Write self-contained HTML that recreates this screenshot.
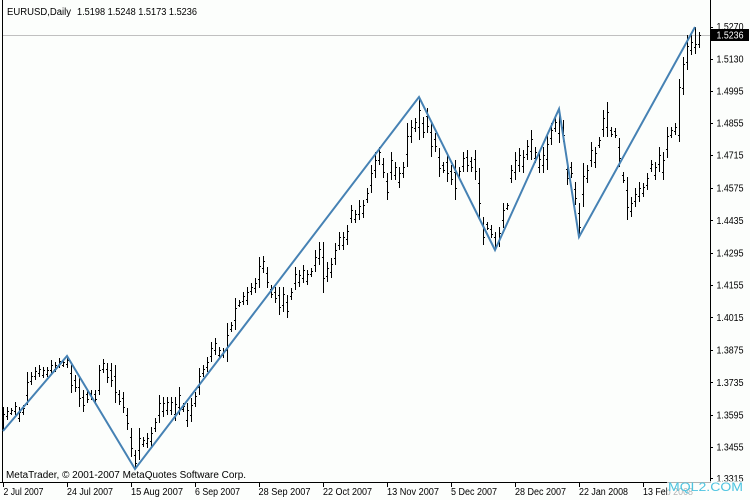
<!DOCTYPE html>
<html><head><meta charset="utf-8">
<style>
html,body{margin:0;padding:0;background:#fcfefc;}
svg{display:block;}
text{font-family:"Liberation Sans",sans-serif;}
</style></head>
<body>
<svg width="750" height="500" viewBox="0 0 750 500" xmlns="http://www.w3.org/2000/svg">
<rect x="0" y="0" width="750" height="500" fill="#fcfefc"/>
<!-- bid line -->
<path d="M3 35.5H710" stroke="#c0c0c0" stroke-width="1" shape-rendering="crispEdges"/>
<!-- frame -->
<path d="M2.5 0V483M710.5 0V483M0 482.5H711" stroke="#000" stroke-width="1" fill="none" shape-rendering="crispEdges"/>
<!-- bars -->
<path stroke="#000" stroke-width="1" fill="none" shape-rendering="crispEdges" d="
M3.5 407V430M2 423.5h1M4 414.5h1
M7.5 407V420M6 416.5h1M8 411.5h1
M11.5 408V415M10 413.5h1M12 410.5h1
M15.5 402V415M14 411.5h1M16 406.5h1
M19.5 407V422M18 418.5h1M20 412.5h1
M23.5 405V415M22 412.5h1M24 408.5h1
M27.5 372V405M26 395.5h1M28 382.5h1
M31.5 372V385M30 381.5h1M32 376.5h1
M35.5 367V380M34 376.5h1M36 371.5h1
M39.5 365V377M38 373.5h1M40 369.5h1
M43.5 367V378M42 375.5h1M44 370.5h1
M47.5 367V377M46 374.5h1M48 370.5h1
M51.5 360V375M50 370.5h1M52 365.5h1
M55.5 362V372M54 369.5h1M56 365.5h1
M59.5 358V368M58 365.5h1M60 361.5h1
M63.5 360V367M62 365.5h1M64 362.5h1
M67.5 356V368M66 364.5h1M68 360.5h1
M71.5 365V393M70 373.5h1M72 385.5h1
M75.5 375V392M74 380.5h1M76 387.5h1
M79.5 378V407M78 387.5h1M80 398.5h1
M83.5 390V412M82 397.5h1M84 405.5h1
M87.5 390V403M86 394.5h1M88 399.5h1
M91.5 390V400M90 393.5h1M92 397.5h1
M95.5 390V403M94 394.5h1M96 399.5h1
M99.5 365V395M98 390.5h1M100 370.5h1
M103.5 359V373M102 369.5h1M104 363.5h1
M107.5 363V383M106 369.5h1M108 377.5h1
M111.5 363V387M110 370.5h1M112 380.5h1
M115.5 365V403M114 376.5h1M116 392.5h1
M119.5 390V405M118 394.5h1M120 401.5h1
M123.5 392V413M122 398.5h1M124 407.5h1
M127.5 408V430M126 415.5h1M128 423.5h1
M131.5 428V457M130 437.5h1M132 448.5h1
M135.5 450V468M134 455.5h1M136 463.5h1
M139.5 428V460M138 450.5h1M140 438.5h1
M143.5 437V447M142 444.5h1M144 440.5h1
M147.5 433V448M146 443.5h1M148 438.5h1
M151.5 427V447M150 441.5h1M152 433.5h1
M155.5 418V432M154 428.5h1M156 422.5h1
M159.5 395V423M158 415.5h1M160 403.5h1
M163.5 397V417M162 411.5h1M164 403.5h1
M167.5 397V415M166 410.5h1M168 402.5h1
M171.5 397V415M170 410.5h1M172 402.5h1
M175.5 397V421M174 414.5h1M176 404.5h1
M179.5 387V415M178 407.5h1M180 395.5h1
M183.5 403V412M182 409.5h1M184 406.5h1
M187.5 403V427M186 420.5h1M188 410.5h1
M191.5 398V422M190 415.5h1M192 405.5h1
M195.5 392V407M194 403.5h1M196 396.5h1
M199.5 368V395M198 387.5h1M200 376.5h1
M203.5 365V377M202 373.5h1M204 369.5h1
M207.5 357V372M206 367.5h1M208 362.5h1
M211.5 342V362M210 356.5h1M212 348.5h1
M215.5 338V355M214 350.5h1M216 343.5h1
M219.5 347V358M218 355.5h1M220 350.5h1
M223.5 348V358M222 355.5h1M224 351.5h1
M227.5 323V362M226 350.5h1M228 335.5h1
M231.5 322V332M230 329.5h1M232 325.5h1
M235.5 298V330M234 320.5h1M236 308.5h1
M239.5 300V307M238 305.5h1M240 302.5h1
M243.5 292V305M242 301.5h1M244 296.5h1
M247.5 287V305M246 300.5h1M248 292.5h1
M251.5 283V295M250 291.5h1M252 287.5h1
M255.5 278V293M254 288.5h1M256 283.5h1
M259.5 257V288M258 279.5h1M260 266.5h1
M263.5 256V273M262 268.5h1M264 261.5h1
M267.5 267V288M266 273.5h1M268 282.5h1
M271.5 285V298M270 289.5h1M272 294.5h1
M275.5 287V303M274 292.5h1M276 298.5h1
M279.5 287V315M278 295.5h1M280 307.5h1
M283.5 287V312M282 305.5h1M284 294.5h1
M287.5 295V318M286 302.5h1M288 311.5h1
M291.5 288V300M290 296.5h1M292 292.5h1
M295.5 267V290M294 283.5h1M296 274.5h1
M299.5 270V287M298 282.5h1M300 275.5h1
M303.5 265V283M302 278.5h1M304 270.5h1
M307.5 270V285M306 281.5h1M308 274.5h1
M311.5 268V277M310 274.5h1M312 271.5h1
M315.5 250V272M314 265.5h1M316 257.5h1
M319.5 242V265M318 258.5h1M320 249.5h1
M323.5 242V293M322 257.5h1M324 278.5h1
M327.5 262V282M326 276.5h1M328 268.5h1
M331.5 258V278M330 272.5h1M332 264.5h1
M335.5 243V265M334 258.5h1M336 250.5h1
M339.5 232V250M338 245.5h1M340 237.5h1
M343.5 232V250M342 245.5h1M344 237.5h1
M347.5 225V245M346 239.5h1M348 231.5h1
M351.5 205V223M350 218.5h1M352 210.5h1
M355.5 210V223M354 219.5h1M356 214.5h1
M359.5 200V220M358 214.5h1M360 206.5h1
M363.5 200V218M362 213.5h1M364 205.5h1
M367.5 188V203M366 199.5h1M368 193.5h1
M371.5 165V193M370 185.5h1M372 173.5h1
M375.5 152V178M374 170.5h1M376 160.5h1
M379.5 147V165M378 160.5h1M380 152.5h1
M383.5 158V178M382 164.5h1M384 172.5h1
M387.5 173V200M386 181.5h1M388 192.5h1
M391.5 152V180M390 172.5h1M392 160.5h1
M395.5 162V180M394 175.5h1M396 167.5h1
M399.5 167V188M398 182.5h1M400 173.5h1
M403.5 162V178M402 173.5h1M404 167.5h1
M407.5 123V167M406 154.5h1M408 136.5h1
M411.5 120V143M410 136.5h1M412 127.5h1
M415.5 118V132M414 128.5h1M416 122.5h1
M419.5 97V140M418 127.5h1M420 110.5h1
M423.5 117V138M422 123.5h1M424 132.5h1
M427.5 108V133M426 116.5h1M428 126.5h1
M431.5 122V157M430 132.5h1M432 146.5h1
M435.5 133V152M434 139.5h1M436 146.5h1
M439.5 148V177M438 157.5h1M440 168.5h1
M443.5 162V173M442 165.5h1M444 170.5h1
M447.5 153V182M446 162.5h1M448 173.5h1
M451.5 165V185M450 171.5h1M452 179.5h1
M455.5 160V200M454 172.5h1M456 188.5h1
M459.5 167V180M458 176.5h1M460 171.5h1
M463.5 152V172M462 166.5h1M464 158.5h1
M467.5 150V172M466 157.5h1M468 165.5h1
M471.5 157V172M470 161.5h1M472 167.5h1
M475.5 150V180M474 159.5h1M476 171.5h1
M479.5 168V218M478 183.5h1M480 203.5h1
M483.5 217V245M482 225.5h1M484 237.5h1
M487.5 222V230M486 224.5h1M488 228.5h1
M491.5 225V238M490 229.5h1M492 234.5h1
M495.5 232V250M494 237.5h1M496 245.5h1
M499.5 227V247M498 241.5h1M500 233.5h1
M503.5 203V228M502 220.5h1M504 210.5h1
M507.5 203V210M506 208.5h1M508 205.5h1
M511.5 165V183M510 178.5h1M512 170.5h1
M515.5 152V180M514 172.5h1M516 160.5h1
M519.5 148V172M518 165.5h1M520 155.5h1
M523.5 150V173M522 166.5h1M524 157.5h1
M527.5 140V160M526 154.5h1M528 146.5h1
M531.5 130V160M530 151.5h1M532 139.5h1
M535.5 147V163M534 158.5h1M536 152.5h1
M539.5 153V173M538 167.5h1M540 159.5h1
M543.5 147V173M542 165.5h1M544 155.5h1
M547.5 133V170M546 159.5h1M548 144.5h1
M551.5 123V145M550 138.5h1M552 130.5h1
M555.5 117V132M554 128.5h1M556 122.5h1
M559.5 109V143M558 133.5h1M560 119.5h1
M563.5 120V142M562 127.5h1M564 135.5h1
M567.5 162V185M566 169.5h1M568 178.5h1
M571.5 162V178M570 167.5h1M572 173.5h1
M575.5 182V205M574 189.5h1M576 198.5h1
M579.5 203V237M578 213.5h1M580 227.5h1
M583.5 163V207M582 194.5h1M584 176.5h1
M587.5 165V183M586 178.5h1M588 170.5h1
M591.5 142V167M590 160.5h1M592 150.5h1
M595.5 147V168M594 162.5h1M596 153.5h1
M599.5 137V148M598 145.5h1M600 140.5h1
M603.5 110V137M602 129.5h1M604 118.5h1
M607.5 102V137M606 127.5h1M608 112.5h1
M611.5 127V137M610 130.5h1M612 134.5h1
M615.5 128V138M614 131.5h1M616 135.5h1
M619.5 138V167M618 147.5h1M620 158.5h1
M623.5 172V183M622 175.5h1M624 180.5h1
M627.5 177V220M626 190.5h1M628 207.5h1
M631.5 197V217M630 211.5h1M632 203.5h1
M635.5 188V207M634 201.5h1M636 194.5h1
M639.5 182V202M638 196.5h1M640 188.5h1
M643.5 183V197M642 193.5h1M644 187.5h1
M647.5 173V190M646 185.5h1M648 178.5h1
M651.5 160V172M650 168.5h1M652 164.5h1
M655.5 162V180M654 175.5h1M656 167.5h1
M659.5 147V172M658 164.5h1M660 155.5h1
M663.5 152V180M662 172.5h1M664 160.5h1
M667.5 127V158M666 149.5h1M668 136.5h1
M671.5 127V138M670 135.5h1M672 130.5h1
M675.5 123V135M674 131.5h1M676 127.5h1
M679.5 79V142M678 135.5h1M680 87.5h1
M683.5 57V95M682 88.5h1M684 64.5h1
M687.5 35V70M686 62.5h1M688 46.5h1
M691.5 35V55M690 50.5h1M692 42.5h1
M695.5 27V54M694 47.5h1M696 44.5h1
M699.5 32V48M698 44.5h1M700 35.5h1
"/>
<!-- zigzag -->
<polyline points="3,431 67,356 135,469 419,97 495,250 559,109 579,237 695,27" fill="none" stroke="#4682b4" stroke-width="2" stroke-linejoin="miter"/>
<!-- header -->
<text x="7" y="15" font-size="10" textLength="64" lengthAdjust="spacingAndGlyphs" fill="#000">EURUSD,Daily</text>
<text x="77" y="15" font-size="10" textLength="120" lengthAdjust="spacingAndGlyphs" fill="#000">1.5198 1.5248 1.5173 1.5236</text>
<!-- copyright -->
<text x="6" y="478" font-size="10" textLength="240" lengthAdjust="spacingAndGlyphs" fill="#000">MetaTrader, © 2001-2007 MetaQuotes Software Corp.</text>
<!-- price axis ticks -->
<path stroke="#000" stroke-width="1" shape-rendering="crispEdges" d="M711 27.5h2M711 59.5h2M711 91.5h2M711 123.5h2M711 155.5h2M711 188.5h2M711 220.5h2M711 253.5h2M711 285.5h2M711 317.5h2M711 350.5h2M711 382.5h2M711 415.5h2M711 447.5h2M711 478.5h2"/>
<g font-size="10" fill="#000">
<text x="716.5" y="30" textLength="27" lengthAdjust="spacingAndGlyphs">1.5270</text>
<text x="716.5" y="62.5" textLength="27" lengthAdjust="spacingAndGlyphs">1.5130</text>
<text x="716.5" y="94.5" textLength="27" lengthAdjust="spacingAndGlyphs">1.4995</text>
<text x="716.5" y="126.5" textLength="27" lengthAdjust="spacingAndGlyphs">1.4855</text>
<text x="716.5" y="158.5" textLength="27" lengthAdjust="spacingAndGlyphs">1.4715</text>
<text x="716.5" y="191.5" textLength="27" lengthAdjust="spacingAndGlyphs">1.4575</text>
<text x="716.5" y="224" textLength="27" lengthAdjust="spacingAndGlyphs">1.4435</text>
<text x="716.5" y="256.5" textLength="27" lengthAdjust="spacingAndGlyphs">1.4295</text>
<text x="716.5" y="288.5" textLength="27" lengthAdjust="spacingAndGlyphs">1.4155</text>
<text x="716.5" y="321" textLength="27" lengthAdjust="spacingAndGlyphs">1.4015</text>
<text x="716.5" y="353.5" textLength="27" lengthAdjust="spacingAndGlyphs">1.3875</text>
<text x="716.5" y="386" textLength="27" lengthAdjust="spacingAndGlyphs">1.3735</text>
<text x="716.5" y="418.5" textLength="27" lengthAdjust="spacingAndGlyphs">1.3595</text>
<text x="716.5" y="450.5" textLength="27" lengthAdjust="spacingAndGlyphs">1.3455</text>
<text x="716.5" y="482" textLength="27" lengthAdjust="spacingAndGlyphs">1.3315</text>
</g>
<!-- current price box -->
<rect x="711" y="29" width="38" height="12" fill="#000"/>
<text x="716.5" y="38.5" font-size="10" fill="#fff" textLength="27" lengthAdjust="spacingAndGlyphs">1.5236</text>
<!-- date ticks -->
<path stroke="#000" stroke-width="1" shape-rendering="crispEdges" d="M3.5 482V487M67.5 482V487M131.5 482V487M195.5 482V487M259.5 482V487M323.5 482V487M387.5 482V487M451.5 482V487M515.5 482V487M579.5 482V487M643.5 482V487"/>
<g font-size="10" fill="#000">
<text x="3.5" y="495" textLength="40" lengthAdjust="spacingAndGlyphs">2 Jul 2007</text>
<text x="67" y="495" textLength="46" lengthAdjust="spacingAndGlyphs">24 Jul 2007</text>
<text x="131" y="495" textLength="52" lengthAdjust="spacingAndGlyphs">15 Aug 2007</text>
<text x="195" y="495" textLength="45" lengthAdjust="spacingAndGlyphs">6 Sep 2007</text>
<text x="258.5" y="495" textLength="52" lengthAdjust="spacingAndGlyphs">28 Sep 2007</text>
<text x="323" y="495" textLength="49" lengthAdjust="spacingAndGlyphs">22 Oct 2007</text>
<text x="387" y="495" textLength="52" lengthAdjust="spacingAndGlyphs">13 Nov 2007</text>
<text x="451" y="495" textLength="46" lengthAdjust="spacingAndGlyphs">5 Dec 2007</text>
<text x="515" y="495" textLength="51" lengthAdjust="spacingAndGlyphs">28 Dec 2007</text>
<text x="579" y="495" textLength="49" lengthAdjust="spacingAndGlyphs">22 Jan 2008</text>
<text x="643" y="495" textLength="50" lengthAdjust="spacingAndGlyphs">13 Feb 2008</text>
</g>
<!-- watermark -->
<rect x="667" y="481" width="83" height="19" fill="#fcfefc" opacity="0.7"/>
<text x="668" y="491" font-size="12" fill="#4cc4e0" textLength="75" lengthAdjust="spacingAndGlyphs">MQL2.COM</text>
</svg>
</body></html>
